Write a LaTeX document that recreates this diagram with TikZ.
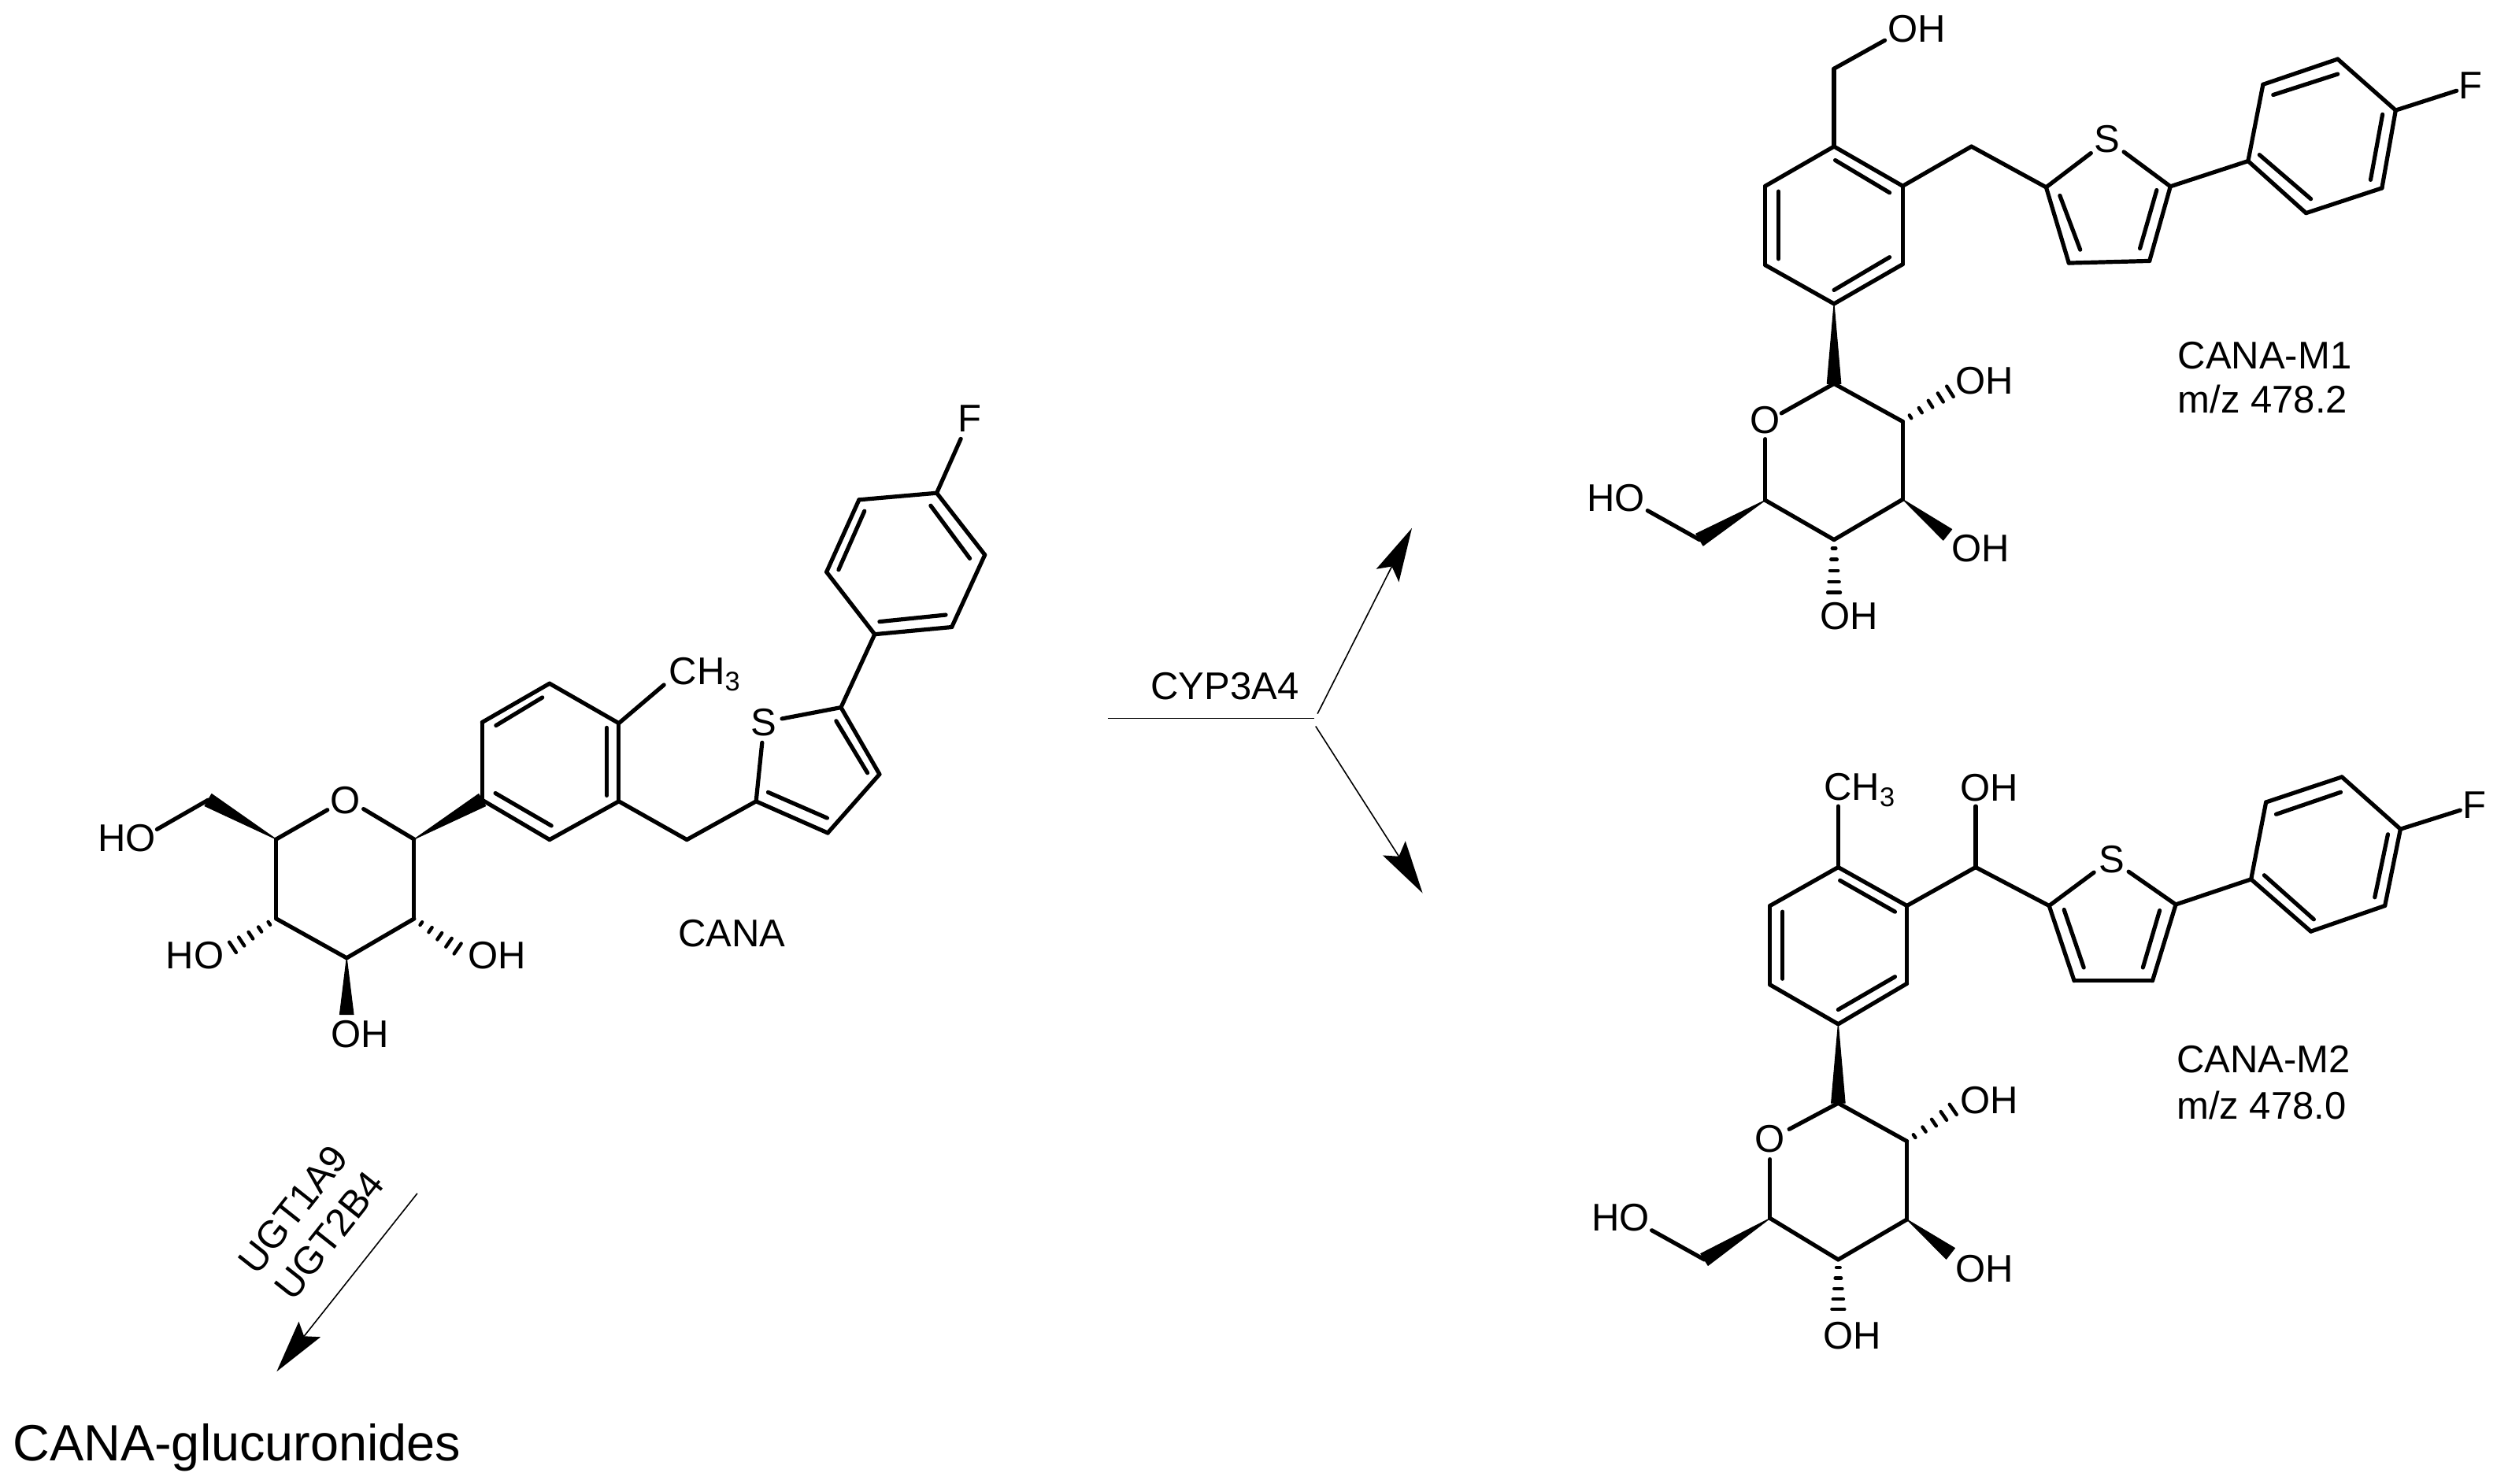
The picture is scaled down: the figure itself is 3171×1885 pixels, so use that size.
\documentclass[tikz,border=0pt]{standalone}
\usepackage{fontspec}
\setmainfont{Liberation Sans}
\usetikzlibrary{calc}
\tikzset{
  bond/.style={line width=2.6pt,line cap=round,line join=round,black},
  arrowline/.style={line width=.8pt,black},
  lbl/.style={inner sep=0pt,font=\fontsize{24.5}{29}\selectfont,text=black},
  biglbl/.style={inner sep=0pt,font=\fontsize{32.4}{38}\selectfont,text=black},
}
\newcommand\atoms[1]{\foreach \nm/\xa/\ya in {#1}{\coordinate (\nm) at (\xa,\ya);}}
\newcommand\bonds[1]{\foreach \pa/\qa in {#1}{\draw[bond] (\pa) -- (\qa);}}
\newcommand\dbl[4]{\coordinate (ia) at (#1,#2);\coordinate (ib) at (#3,#4);\draw[bond] (ia) -- (ib);}
\newcommand\wdg[2]{\filldraw[black,line width=.5pt,line join=round] ($(#2)!4.4pt!90:(#1)$) -- (#1) -- ($(#2)!4.4pt!-90:(#1)$) -- cycle;}
\newcommand\hsh[2]{\foreach \fr [evaluate=\fr as \hw using \fr*3.4+.6] in {.16,.37,.58,.79,.99}{\draw[black,line width=2.2pt,line cap=round] ($(#1)!\fr!(#2)!\hw pt!90:(#2)$) -- ($(#1)!\fr!(#2)!\hw pt!-90:(#2)$);}}
\newcommand\arhead[4]{\fill[black] (#1) -- (#2) -- (#3) -- (#4) -- cycle;}
\begin{document}
\begin{tikzpicture}[x=.5pt,y=-.5pt]
\useasboundingbox (0,0) rectangle (3171,1885);
\fill[white] (0,0) rectangle (3171,1885);
% CANA
\begin{scope}[shift={(100,480)},x=.3823pt,y=-.2867pt]
\atoms{aFe/1465/135,a1/1425/255,a2/1296/270,a3/1242/430,a4/1322/568,a5/1450/552,a6/1505/392,
 t5/1266/730,tS1/1168/755,tS2/1135/808,t2/1125/938,t3/1244/1008,t4/1330/878,
 m/1010/1023,g1/897/938,g2/897/765,g3/782/677,g4/670/763,g5/670/935,g6/782/1023,me/972/680,
 c1/557/1022,oa/473/955,ob/413/957,c5/328/1022,c2/557/1198,c3/445/1285,c4/328/1198,
 c6/215/935,hoe/130/1000,w3/445/1410,h4/255/1262,h2/630/1265}
\node[lbl] (aF) at (1480,90) {F};
\node[lbl] (aS) at (1138,763) {S};
\node[lbl] (aCH) at (1040,657) {CH\textsubscript{3}};
\node[lbl] (aO) at (443,935) {O};
\node[lbl] (aHOa) at (80,1020) {HO};
\node[lbl] (aOHa) at (467,1453) {OH};
\node[lbl] (aHOb) at (193,1280) {HO};
\node[lbl] (aOHb) at (695,1280) {OH};
\node[lbl] (aname) at (1085,1230) {CANA};
\bonds{aFe/a1,a1/a2,a2/a3,a3/a4,a4/a5,a5/a6,a6/a1,a4/t5,t5/tS1,tS2/t2,t2/t3,t3/t4,t4/t5,t2/m,m/g1,g1/g2,g2/g3,g3/g4,g4/g5,g5/g6,g6/g1,g2/me,
 c1/oa,ob/c5,c5/c4,c4/c3,c3/c2,c2/c1,c6/hoe}
\dbl{1415}{283}{1480}{400}\dbl{1305}{295}{1262}{425}\dbl{1330}{540}{1440}{525}
\dbl{1258}{760}{1310}{875}\dbl{1145}{918}{1243}{975}
\dbl{877}{925}{877}{775}\dbl{770}{708}{693}{770}\dbl{692}{920}{785}{992}
\wdg{c1}{g5}\wdg{c5}{c6}\wdg{c3}{w3}\hsh{c4}{h4}\hsh{c2}{h2}
\end{scope}
% CANA-M1
\begin{scope}[shift={(1980,0)},x=.3794pt,y=-.2643pt]
\atoms{be/545/97,bm/460/165,p1/460/352,p2/575/447,p3/575/635,p4/460/730,p5/345/637,p6/345/447,
 lk/690/352,s2/815/450,sa/890/368,sb/945/365,s5/1023/448,s4/988/627,s3/853/632,
 q1/1153/387,q2/1178/203,q3/1303/142,q4/1400/265,q5/1377/452,q6/1250/512,fe/1502/218,
 u1/460/922,u2/575/1013,u3/575/1200,u4/460/1297,u5/345/1202,oc/372/993,od/345/1055,
 hu2/655/940,wu3/650/1285,hu4/460/1425,u6/235/1297,hoa/148/1227}
\node[lbl] (bOH) at (598,70) {OH};
\node[lbl] (bS) at (917,335) {S};
\node[lbl] (bF) at (1525,205) {F};
\node[lbl] (bO) at (345,1010) {O};
\node[lbl] (bOHa) at (712,915) {OH};
\node[lbl] (bOHb) at (705,1318) {OH};
\node[lbl] (bOHc) at (485,1480) {OH};
\node[lbl] (bHO) at (95,1197) {HO};
\node[lbl,anchor=west] (bname) at (1035,855) {CANA-M1};
\node[lbl,anchor=west] (bmz) at (1035,960) {m/z 478.2};
\bonds{be/bm,bm/p1,p1/p2,p2/p3,p3/p4,p4/p5,p5/p6,p6/p1,p2/lk,lk/s2,s2/sa,sb/s5,s5/s4,s4/s3,s3/s2,s5/q1,q1/q2,q2/q3,q3/q4,q4/q5,q5/q6,q6/q1,q4/fe,
 u1/oc,od/u5,u5/u4,u4/u3,u3/u2,u2/u1,u6/hoa}
\dbl{462}{385}{553}{463}\dbl{553}{618}{460}{697}\dbl{367}{622}{367}{460}
\dbl{838}{470}{872}{600}\dbl{1000}{457}{972}{597}
\dbl{1195}{228}{1303}{178}\dbl{1378}{275}{1358}{432}\dbl{1258}{478}{1172}{372}
\wdg{p4}{u1}\wdg{u3}{wu3}\wdg{u5}{u6}\hsh{u2}{hu2}\hsh{u4}{hu4}
\end{scope}
% CANA-M2
\begin{scope}[shift={(1980,940)},x=.3794pt,y=-.2548pt]
\atoms{ce/467/165,r1/467/317,r2/582/413,r3/582/607,r4/467/708,r5/353/610,r6/353/413,
 lh/697/317,lo/697/165,v2/820/413,va/895/330,vb/953/328,v5/1032/410,v4/993/600,v3/862/600,
 x1/1158/347,x2/1183/155,x3/1310/92,x4/1408/222,x5/1382/413,x6/1258/477,ff/1508/175,
 y1/467/905,y2/582/1000,y3/582/1195,y4/467/1295,y5/353/1192,ya/385/970,yb/353/1045,
 hy2/660/920,wy3/655/1280,hy4/467/1420,y6/243/1295,hob/155/1222}
\node[lbl] (cCH) at (503,125) {CH\textsubscript{3}};
\node[lbl] (cOH) at (720,118) {OH};
\node[lbl] (cS) at (925,297) {S};
\node[lbl] (cF) at (1532,162) {F};
\node[lbl] (cO) at (353,995) {O};
\node[lbl] (cOHa) at (720,897) {OH};
\node[lbl] (cOHb) at (712,1318) {OH};
\node[lbl] (cOHc) at (490,1485) {OH};
\node[lbl] (cHO) at (103,1190) {HO};
\node[lbl,anchor=west] (cname) at (1033,795) {CANA-M2};
\node[lbl,anchor=west] (cmz) at (1033,910) {m/z 478.0};
\bonds{ce/r1,r1/r2,r2/r3,r3/r4,r4/r5,r5/r6,r6/r1,r2/lh,lh/lo,lh/v2,v2/va,vb/v5,v5/v4,v4/v3,v3/v2,v5/x1,x1/x2,x2/x3,x3/x4,x4/x5,x5/x6,x6/x1,x4/ff,
 y1/ya,yb/y5,y5/y4,y4/y3,y3/y2,y2/y1,y6/hob}
\dbl{470}{350}{562}{428}\dbl{562}{590}{467}{672}\dbl{374}{595}{374}{428}
\dbl{845}{423}{878}{567}\dbl{1005}{425}{977}{567}
\dbl{1200}{185}{1308}{130}\dbl{1387}{235}{1365}{392}\dbl{1263}{447}{1180}{337}
\wdg{r4}{y1}\wdg{y3}{wy3}\wdg{y5}{y6}\hsh{y2}{hy2}\hsh{y4}{hy4}
\end{scope}
% UGT arrow
\begin{scope}[shift={(0,1400)},x=.2232pt,y=-.1689pt]
\atoms{ua/1187/343,ut/787/1013,ub/850/825,un/865/880,uc/912/883}
\draw[arrowline] (ua) -- (un);
\arhead{ut}{ub}{un}{uc}
\end{scope}
\node[lbl,rotate=51.6] (ugta) at (372,1536) {UGT1A9};
\node[lbl,rotate=51.6] (ugtb) at (418,1569) {UGT2B4};
\node[biglbl,anchor=west] (gluc) at (16,1839) {CANA-glucuronides};
% CYP arrows
\begin{scope}[shift={(1380,640)},x=.1656pt,y=-.1656pt]
\atoms{ha/80/823,hb/873/823,ea/885/805,et/1247/93,eb/1110/250,en/1170/240,ec/1197/300,
 da/878/853,dt/1288/1493,db/1135/1348,dn/1197/1352,dc/1222/1293}
\draw[arrowline] (ha) -- (hb);
\draw[arrowline] (ea) -- (en);
\draw[arrowline] (da) -- (dn);
\arhead{et}{eb}{en}{ec}
\arhead{dt}{db}{dn}{dc}
\node[lbl] (cyp) at (530,700) {CYP3A4};
\end{scope}
\end{tikzpicture}
\end{document}
